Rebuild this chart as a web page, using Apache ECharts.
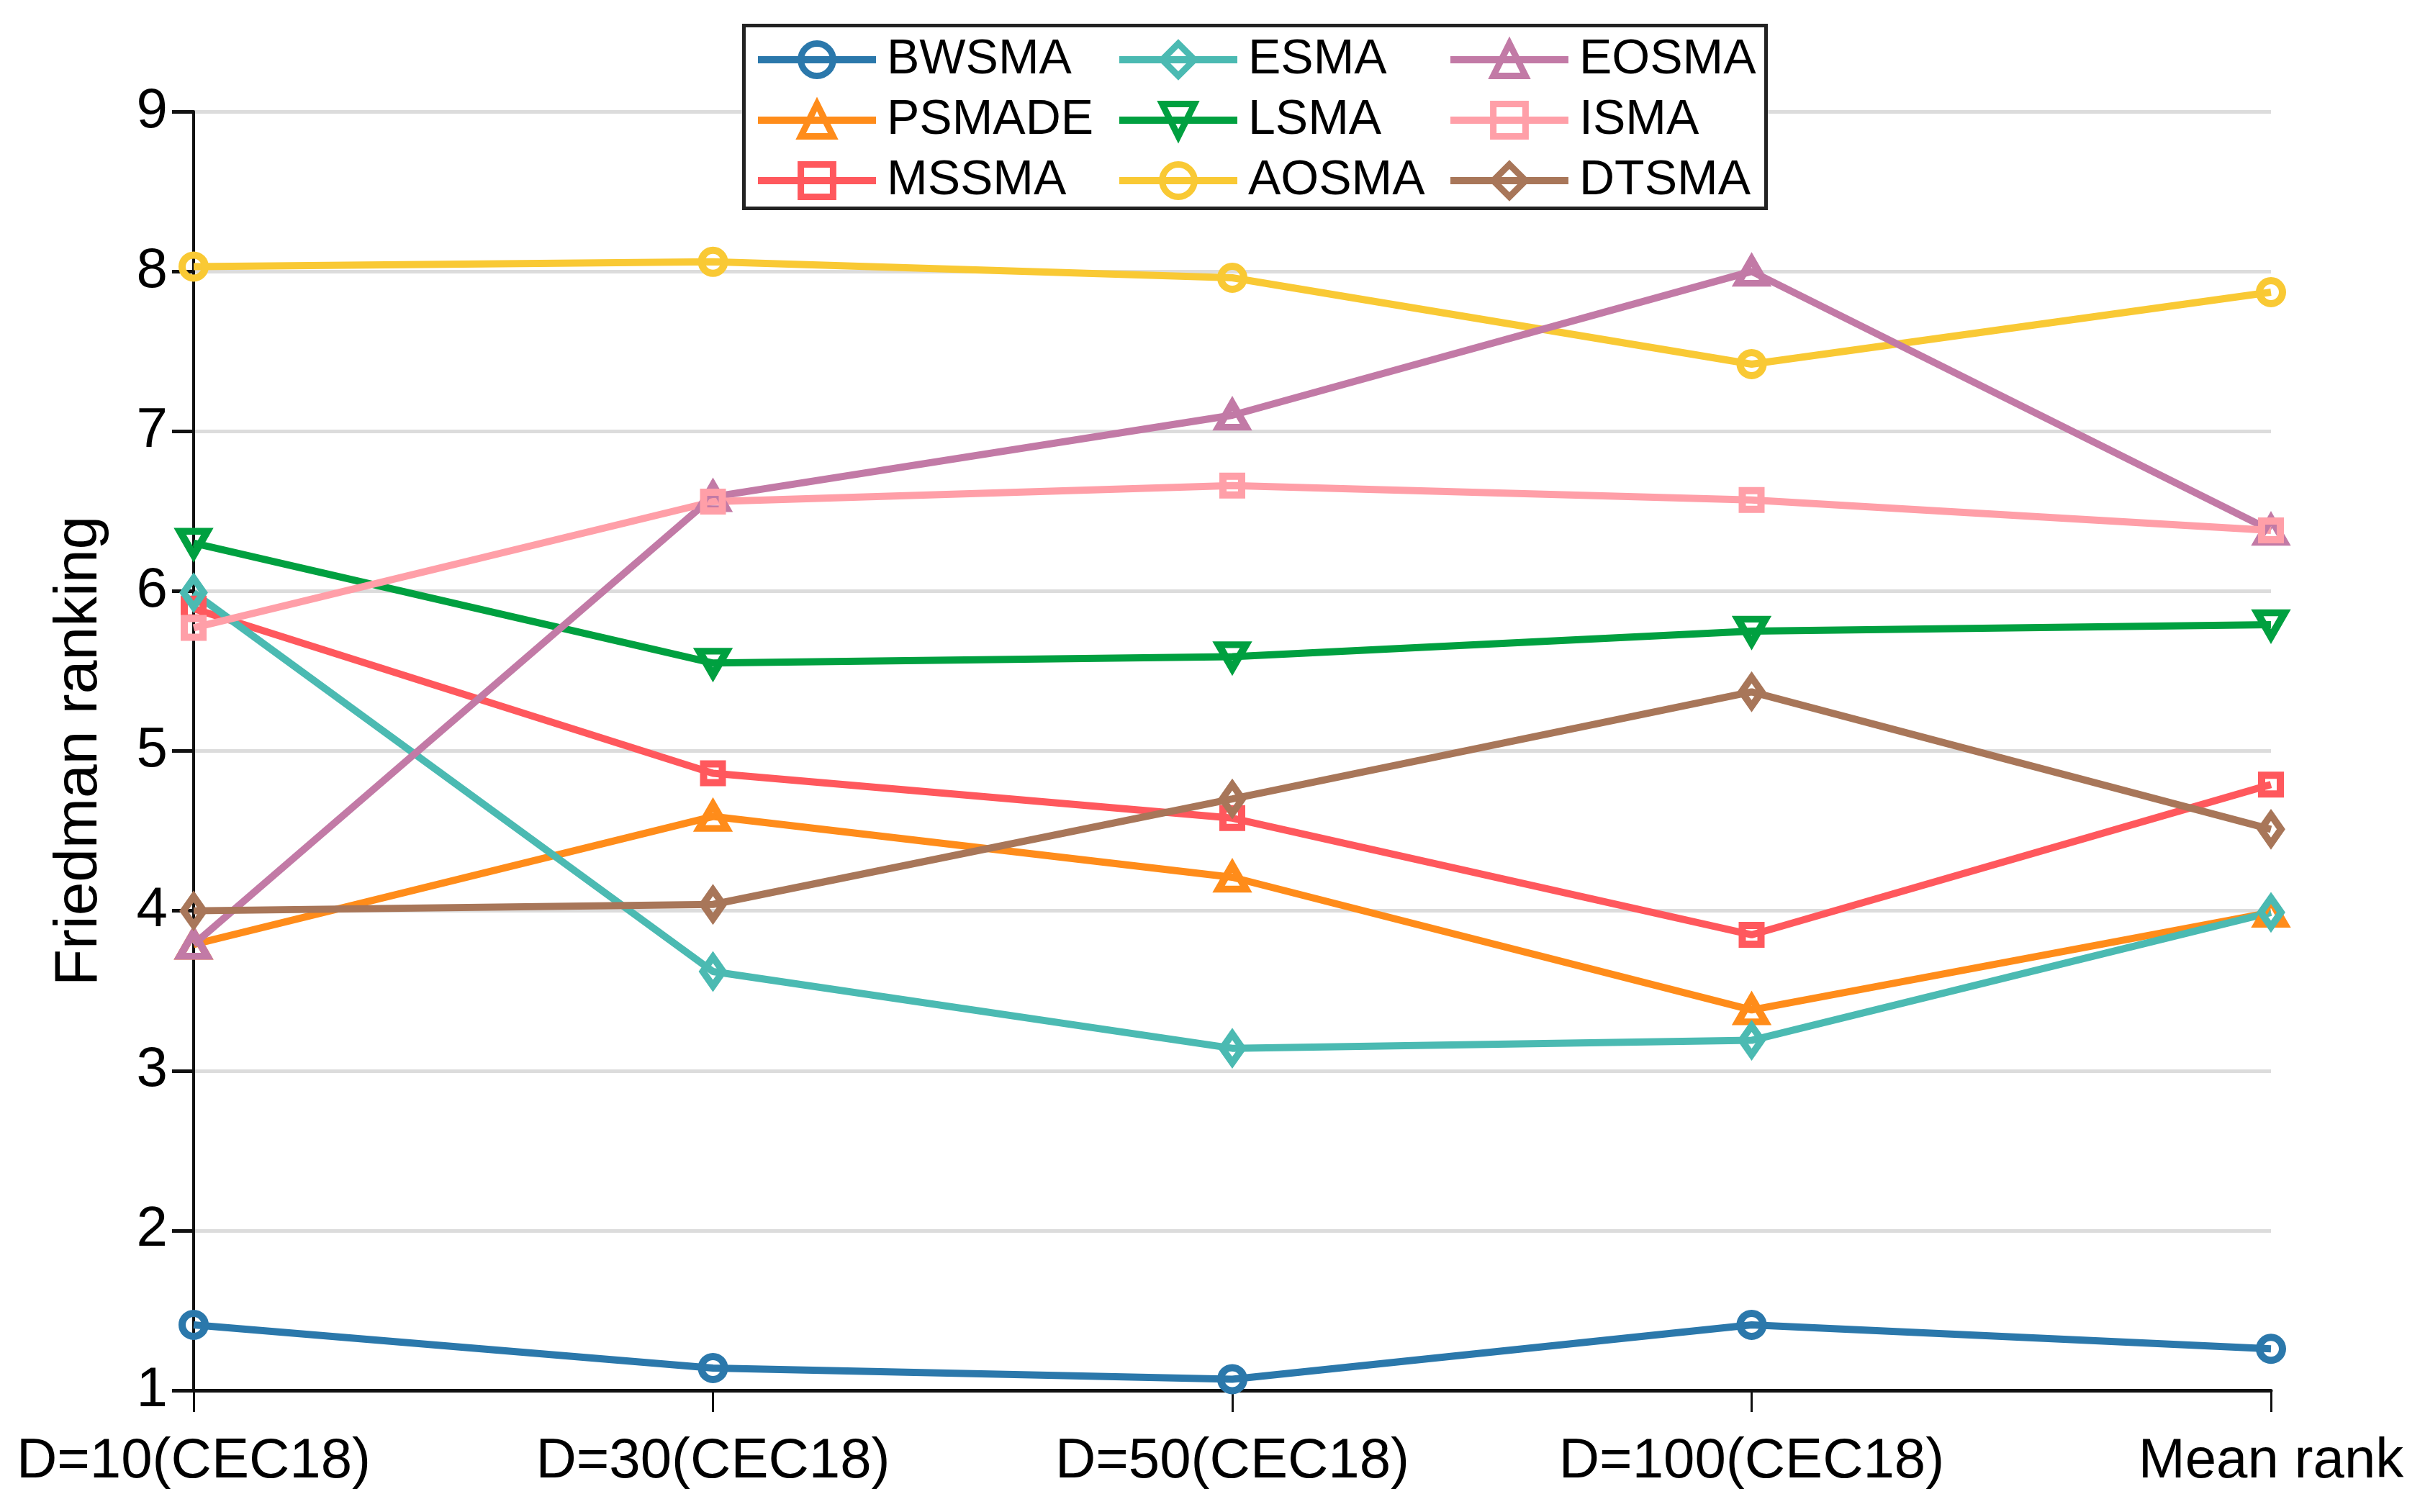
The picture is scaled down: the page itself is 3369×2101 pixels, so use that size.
<!DOCTYPE html>
<html>
<head>
<meta charset="utf-8">
<script src="https://cdn.jsdelivr.net/npm/echarts@6/dist/echarts.min.js"></script>
<style>
html,body{margin:0;padding:0;background:#fff;}
#chart{width:3369px;height:2101px;}
</style>
</head>
<body>
<div id="chart"></div>
<script>
const categories = ['D=10(CEC18)', 'D=30(CEC18)', 'D=50(CEC18)', 'D=100(CEC18)', 'Mean rank'];
const yTicks = [1, 2, 3, 4, 5, 6, 7, 8, 9];

const BWSMA  = [1.41, 1.14, 1.07, 1.41, 1.26];
const PSMADE = [3.79, 4.59, 4.21, 3.38, 3.99];
const MSSMA  = [5.89, 4.86, 4.58, 3.85, 4.79];
const ESMA   = [5.99, 3.62, 3.14, 3.19, 3.99];
const LSMA   = [6.30, 5.55, 5.59, 5.75, 5.79];
const AOSMA  = [8.03, 8.06, 7.96, 7.42, 7.87];
const EOSMA  = [3.79, 6.59, 7.10, 8.00, 6.38];
const ISMA   = [5.77, 6.56, 6.66, 6.57, 6.38];
const DTSMA  = [4.00, 4.04, 4.70, 5.37, 4.51];

const seriesNames = ['BWSMA', 'PSMADE', 'MSSMA', 'ESMA', 'LSMA', 'AOSMA', 'EOSMA', 'ISMA', 'DTSMA'];
const seriesData = [BWSMA, PSMADE, MSSMA, ESMA, LSMA, AOSMA, EOSMA, ISMA, DTSMA];
const colors = ['#2b78ab', '#ff8c1a', '#ff585d', '#4bbab2', '#00a040', '#f9c934', '#c27aa6', '#ff9fa8', '#a87659'];

const DOWN_TRI = 'path://M0,0L20,0L10,17.3Z';
const UP_TRI = 'path://M10,0L20,17.3L0,17.3Z';
const symbols = ['circle', UP_TRI, 'rect', 'diamond', DOWN_TRI, 'circle', UP_TRI, 'rect', 'diamond'];
const symbolSizes = [[32, 32], [38, 33], [26, 26], [28, 40], [38, 33], [32, 32], [38, 33], [26, 26], [28, 40]];

const FONT = "'Liberation Sans', Arial, sans-serif";

const series = seriesNames.map((name, i) => ({
  name: name,
  type: 'line',
  data: seriesData[i],
  symbol: symbols[i],
  symbolSize: symbolSizes[i],
  showAllSymbol: true,
  lineStyle: { color: colors[i], width: 10 },
  itemStyle: { color: 'rgba(255,255,255,0)', borderColor: colors[i], borderWidth: 10, borderJoin: 'miter' },
  emphasis: { disabled: true },
  z: 2
}));

const legendCols = [
  { names: ['BWSMA', 'PSMADE', 'MSSMA'], left: 1048 },
  { names: ['ESMA', 'LSMA', 'AOSMA'], left: 1550 },
  { names: ['EOSMA', 'ISMA', 'DTSMA'], left: 2010 }
];

const legends = legendCols.map(c => ({
  orient: 'vertical',
  left: c.left,
  top: 49,
  padding: 0,
  itemWidth: 164,
  itemHeight: 56,
  itemGap: 16,
  data: c.names,
  selectedMode: false,
  z: 6,
  lineStyle: { width: 10 },
  itemStyle: { borderWidth: 9, borderJoin: 'miter' },
  textStyle: { fontFamily: FONT, fontSize: 68, color: '#000', padding: [0, 0, 0, 10] }
}));

const chart = echarts.init(document.getElementById('chart'), null, { renderer: 'canvas' });
chart.setOption({
  animation: false,
  backgroundColor: '#fff',
  grid: { left: 269, right: 214, top: 155, bottom: 169, containLabel: false },
  legend: legends,
  graphic: [{
    type: 'rect',
    left: 1031,
    top: 33,
    shape: { width: 1420, height: 254 },
    style: { fill: '#fff', stroke: '#222', lineWidth: 5 },
    z: 4
  }],
  xAxis: {
    type: 'category',
    data: categories,
    boundaryGap: false,
    axisLine: { show: true, lineStyle: { color: '#111', width: 5 } },
    axisTick: { show: true, alignWithLabel: true, length: 30, lineStyle: { color: '#111', width: 3 } },
    axisLabel: { fontFamily: FONT, fontSize: 78, color: '#000', margin: 60, interval: 0 },
    splitLine: { show: false }
  },
  yAxis: {
    type: 'value',
    min: 1,
    max: 9,
    interval: 1,
    name: 'Friedman ranking',
    nameLocation: 'middle',
    nameGap: 116,
    nameTextStyle: { fontFamily: FONT, fontSize: 84, color: '#000' },
    axisLine: { show: true, lineStyle: { color: '#111', width: 4 } },
    axisTick: { show: true, length: 30, lineStyle: { color: '#111', width: 5 } },
    axisLabel: {
      fontFamily: FONT, fontSize: 78, color: '#000', margin: 36,
      formatter: v => (yTicks.indexOf(v) >= 0 ? String(v) : '')
    },
    splitLine: { show: true, lineStyle: { color: '#dcdcdc', width: 5 } }
  },
  series: series
});
</script>
</body>
</html>
